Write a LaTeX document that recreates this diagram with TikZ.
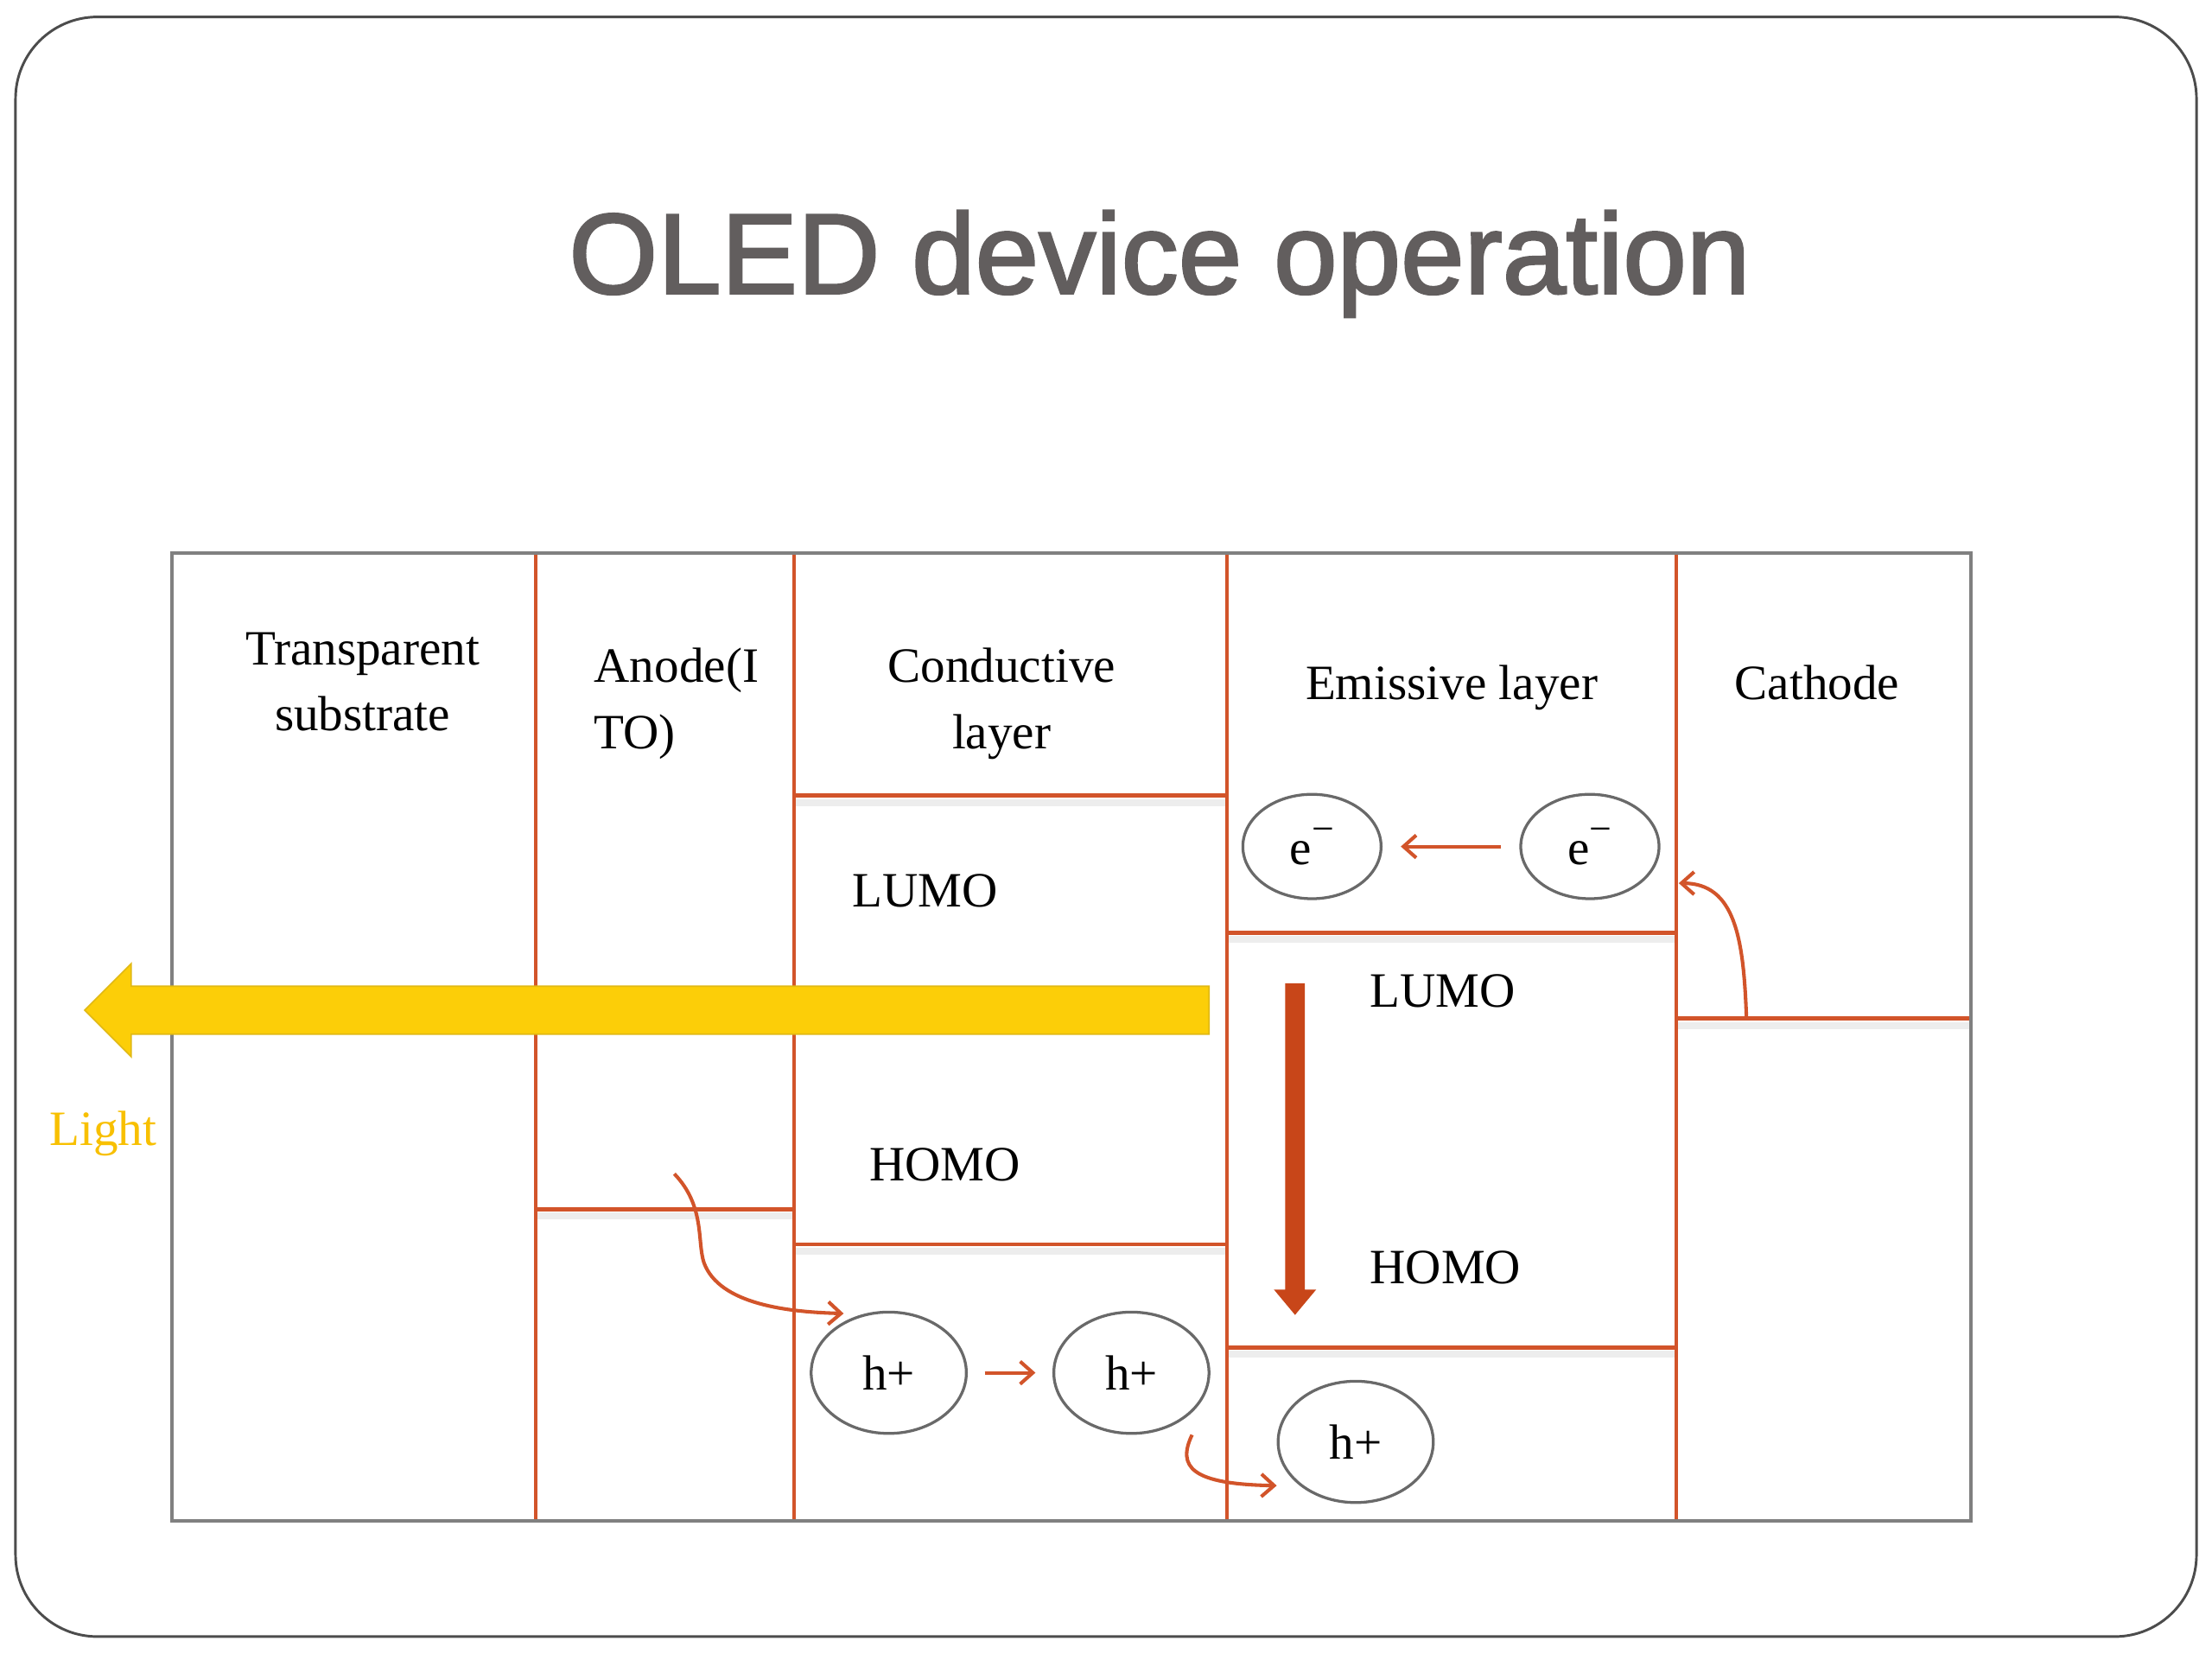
\documentclass[tikz,border=0pt]{standalone}
\usepackage{fontspec}
\setmainfont{Liberation Serif}
\newfontfamily\titlefont{Liberation Sans}
\usetikzlibrary{shapes.geometric,arrows.meta}
\definecolor{org}{RGB}{210,84,42}
\definecolor{darkorg}{RGB}{200,70,25}
\definecolor{boxgray}{RGB}{128,128,128}
\definecolor{ttl}{RGB}{98,94,94}
\definecolor{ylw}{RGB}{252,206,8}
\definecolor{ylwedge}{RGB}{225,185,20}
\definecolor{lightgold}{RGB}{248,192,0}
\definecolor{circgray}{RGB}{105,105,105}
\newcommand{\heavytext}[1]{\special{pdf:literal direct 2 Tr 1.6 w}#1\special{pdf:literal direct 0 Tr}}
\tikzset{
  lbl/.style={font=\fontsize{35}{47}\selectfont, inner sep=0pt, text=black},
  orangeline/.style={draw=org, line width=2.5pt},
  levelline/.style={draw=org, line width=3pt},
  levelshadow/.style={draw=black!7, line width=5pt},
  particle/.style={ellipse, draw=circgray, line width=2pt, inner sep=0pt, font=\fontsize{35}{40}\selectfont},
  thinarrow/.style={draw=org, line width=2.5pt, -{Straight Barb[length=9pt,width=16pt,line width=2.5pt]}},
}
\begin{document}
\begin{tikzpicture}[x=1pt,y=-1pt]
\useasboundingbox (0,0) rectangle (1568,1176);
\fill[white] (0,0) rectangle (1568,1176);
% slide frame
\draw[draw=black!70, line width=1.8pt, rounded corners=58pt] (11,12) rectangle (1557,1160);
% title
\node[anchor=base, inner sep=0pt, text=ttl, font=\titlefont\fontsize{81}{96}\selectfont] (title) at (822,208) {\heavytext{OLED device operation}};

% level shadows
\draw[levelshadow] (381,862) -- (562,862);
\draw[levelshadow] (564,569) -- (869,569);
\draw[levelshadow] (564,887) -- (869,887);
\draw[levelshadow] (871,666) -- (1187,666);
\draw[levelshadow] (871,960) -- (1187,960);
\draw[levelshadow] (1189,727) -- (1396,727);

% outer box
\draw[draw=boxgray, line width=2.5pt] (122,392) rectangle (1397,1078);
% layer separators
\draw[orangeline] (380,393) -- (380,1077);
\draw[orangeline] (563,393) -- (563,1077);
\draw[orangeline] (870,393) -- (870,1077);
\draw[orangeline] (1188,393) -- (1188,1077);
% energy levels
\draw[levelline] (380,857) -- (563,857);
\draw[levelline] (563,564) -- (870,564);
\draw[levelline] (563,882) -- (870,882);
\draw[levelline] (870,661) -- (1188,661);
\draw[levelline] (870,955) -- (1188,955);
\draw[levelline] (1188,722) -- (1396,722);

% column headings
\node[lbl, anchor=north, align=center] (substrate) at (257,448) {Transparent\\substrate};
\node[lbl, anchor=north west, align=left] (anode) at (421,459) {Anode(I\\TO)};
\node[lbl, anchor=north, align=center] (conductive) at (710,459) {Conductive\\layer};
\node[lbl, anchor=base] (emissive) at (1029,496) {Emissive layer};
\node[lbl, anchor=base] (cathode) at (1288,496) {Cathode};

% level labels
\node[lbl, anchor=base west] (lumo1) at (604,643) {LUMO};
\node[lbl, anchor=base west] (homo1) at (616,837) {HOMO};
\node[lbl, anchor=base west] (lumo2) at (971,714) {LUMO};
\node[lbl, anchor=base west] (homo2) at (971,910) {HOMO};

% light arrow
\draw[fill=ylw, draw=ylwedge, line width=1pt] (857,699) -- (93,699) -- (93,683) -- (60,716) -- (93,749) -- (93,733) -- (857,733) -- cycle;
\node[lbl, anchor=base, text=lightgold] (light) at (73,812) {Light};

% recombination arrow
\fill[darkorg] (911,697) -- (925,697) -- (925,914) -- (933,914) -- (918,932) -- (903,914) -- (911,914) -- cycle;

% electrons
\node[particle, minimum width=98pt, minimum height=74pt] (e1) at (930,600) {e\raisebox{16pt}{\fontsize{28}{28}\selectfont −}};
\node[particle, minimum width=98pt, minimum height=74pt] (e2) at (1127,600) {e\raisebox{16pt}{\fontsize{28}{28}\selectfont −}};
\draw[thinarrow, shorten <=13pt, shorten >=13pt] (e2) -- (e1);

% holes
\node[particle, minimum width=110pt, minimum height=86pt] (h1) at (630,973) {h+};
\node[particle, minimum width=110pt, minimum height=86pt] (h2) at (802,973) {h+};
\node[particle, minimum width=110pt, minimum height=86pt] (h3) at (961,1022) {h+};
\draw[thinarrow, shorten <=12pt, shorten >=12pt] (h1) -- (h2);

% injection paths
\coordinate (holestart) at (478,832);
\coordinate (holeend) at (598,931);
\draw[thinarrow] (holestart) .. controls (500,855) and (494,880) .. (499,895) .. controls (510,925) and (560,930) .. (holeend);
\coordinate (h3start) at (845,1017);
\coordinate (h3end) at (905,1053);
\draw[thinarrow] (h3start) .. controls (834,1040) and (845,1052) .. (h3end);
\coordinate (catstart) at (1238,722);
\coordinate (catend) at (1190,626);
\draw[thinarrow] (catstart) .. controls (1236,665) and (1230,626) .. (catend);
\end{tikzpicture}
\end{document}
